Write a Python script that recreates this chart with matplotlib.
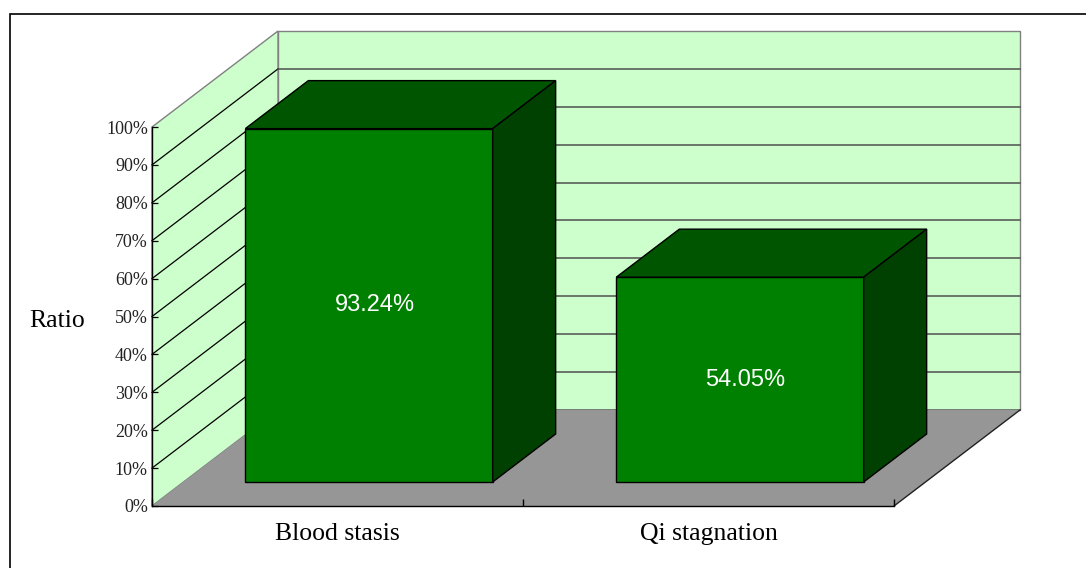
import matplotlib
matplotlib.use("Agg")
import matplotlib.pyplot as plt
from matplotlib.patches import Polygon, Rectangle

# data
categories = ["Blood stasis", "Qi stagnation"]
values = [93.24, 54.05]
value_labels = ["93.24%", "54.05%"]
y_ticks = [0, 10, 20, 30, 40, 50, 60, 70, 80, 90, 100]
y_tick_labels = ["0%", "10%", "20%", "30%", "40%", "50%", "60%", "70%", "80%", "90%", "100%"]

# depth of the fake 3d box, in data units
DX = 0.3396
DY = 25.33
BAR_W = 2 / 3

front_c = "#008000"
top_c = "#005500"
side_c = "#004000"


def p3(x, y, d):
    # project (x, y, depth) onto the plane
    return (x + d * DX, y + d * DY)


fig = plt.figure(figsize=(10.86, 5.68), dpi=100)
ax = fig.add_axes([152 / 1086, 62 / 568, 742 / 1086, 379 / 568])
ax.patch.set_visible(False)
ax.set_xlim(0, len(categories))
ax.set_ylim(0, 100)

n = len(categories)
top = y_ticks[-1]

def poly(pts, fc, ec="none", lw=0.8, z=1):
    ax.add_patch(Polygon(pts, closed=True, facecolor=fc, edgecolor=ec,
                         linewidth=lw, zorder=z, clip_on=False))

# walls and floor
poly([p3(0, 0, 1), p3(n, 0, 1), p3(n, top, 1), p3(0, top, 1)], "#ccffcc", "#808080", 1.0, 0.5)
poly([p3(0, 0, 0), p3(0, top, 0), p3(0, top, 1), p3(0, 0, 1)], "#ccffcc", "#808080", 1.0, 0.5)
poly([p3(0, 0, 0), p3(n, 0, 0), p3(n, 0, 1), p3(0, 0, 1)], "#969696", "none", 1.0, 0.7)

# gridlines
for t in y_ticks[1:-1]:
    a, b = p3(0, t, 0), p3(0, t, 1)
    ax.plot([a[0], b[0]], [a[1], b[1]], color="black", lw=0.9, zorder=0.6, clip_on=False)
    a, b = p3(0, t, 1), p3(n, t, 1)
    ax.plot([a[0], b[0]], [a[1], b[1]], color="#505050", lw=1.1, zorder=0.6, clip_on=False)
a, b = p3(0, 0, 1), p3(n, 0, 1)
ax.plot([a[0], b[0]], [a[1], b[1]], color="#606060", lw=1.1, zorder=0.6, clip_on=False)
a, b = p3(n, 0, 0), p3(n, 0, 1)
ax.plot([a[0], b[0]], [a[1], b[1]], color="#202020", lw=1.0, zorder=0.8, clip_on=False)

# bars
for i, v in enumerate(values):
    x0 = i + (1 - BAR_W) / 2
    x1 = x0 + BAR_W
    poly([p3(x0, 0, 0.25), p3(x1, 0, 0.25), p3(x1, v, 0.25), p3(x0, v, 0.25)], front_c, "black", 1.0, 3)
    poly([p3(x0, v, 0.25), p3(x1, v, 0.25), p3(x1, v, 0.75), p3(x0, v, 0.75)], top_c, "black", 1.0, 3)
    poly([p3(x1, 0, 0.25), p3(x1, 0, 0.75), p3(x1, v, 0.75), p3(x1, v, 0.25)], side_c, "black", 1.0, 3)
    cx, cy = p3(i + 0.515, v / 2, 0.25)
    ax.text(cx, cy, value_labels[i], color="white", ha="center", va="center",
            fontsize=17, family="Liberation Sans", zorder=4)

# axes
for s in ["top", "right"]:
    ax.spines[s].set_visible(False)
ax.spines["left"].set_linewidth(1.0)
ax.spines["bottom"].set_linewidth(1.0)
ax.set_yticks(y_ticks)
ax.set_yticklabels(y_tick_labels, family="Liberation Serif", fontsize=13, color="#222222")
ax.tick_params(axis="y", direction="in", length=4, width=0.9, pad=3)
ax.set_xticks([i + 0.5 for i in range(n)])
ax.set_xticklabels(categories, family="Liberation Serif", fontsize=18.5)
ax.set_xticks(range(n + 1), minor=True)
ax.tick_params(axis="x", which="major", length=0, pad=12.5)
ax.tick_params(axis="x", which="minor", direction="in", length=5, width=1.0)
ax.set_ylabel("Ratio", rotation=0, ha="center", va="baseline",
              family="Liberation Serif", fontsize=18.5)
ax.yaxis.set_label_coords(-0.1274, 0.4723)

# outer frame of the chart area
fig.patches.append(Rectangle((10 / 1086, -0.05), 1.2, 0.05 + 554 / 568,
                             transform=fig.transFigure, fill=False,
                             edgecolor="black", linewidth=1.2))

fig.savefig("out.png", dpi=100)
